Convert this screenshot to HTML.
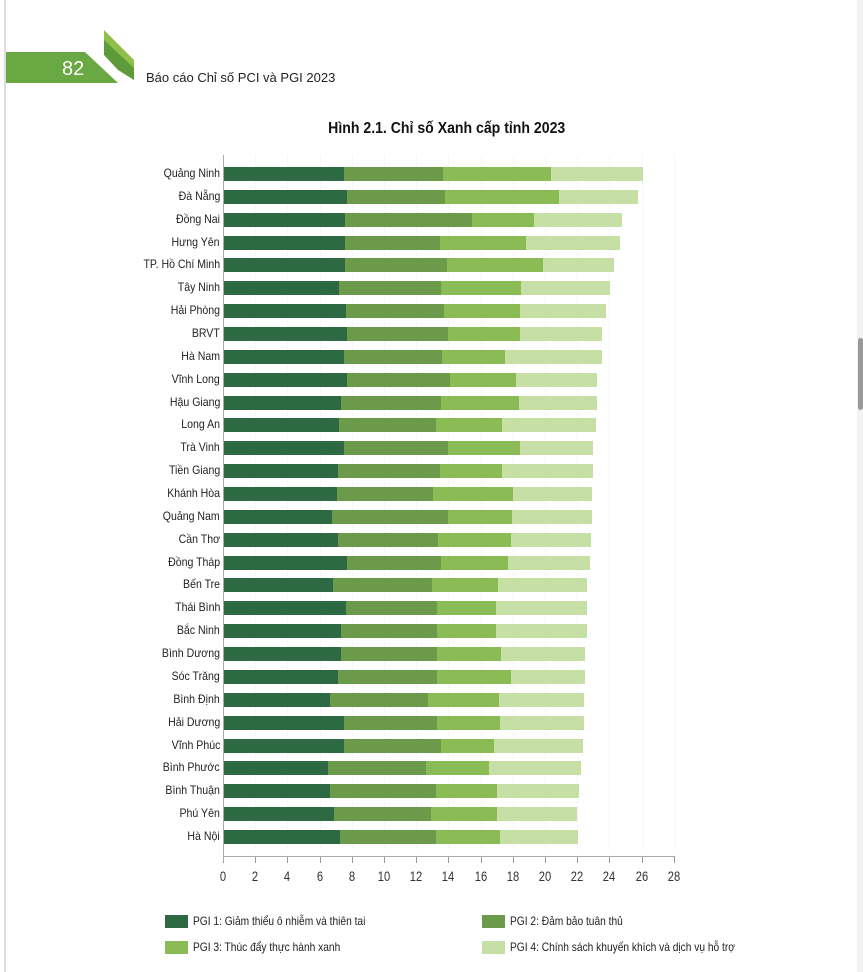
<!DOCTYPE html>
<html><head><meta charset="utf-8">
<style>
body{margin:0;width:863px;height:972px;background:#fff;position:relative;overflow:hidden;font-family:"Liberation Sans",sans-serif;}
.a{position:absolute;}
.lbl{position:absolute;right:643px;font-size:12px;color:#222;transform:scaleX(0.88);transform-origin:right center;white-space:nowrap;}
.tk{position:absolute;font-size:14px;color:#333;width:30px;text-align:center;transform:scaleX(0.8);}
.leg{position:absolute;font-size:12px;color:#222;white-space:nowrap;transform:scaleX(0.85);transform-origin:left center;}
.sw{position:absolute;width:23px;height:13px;}
</style></head><body>
<div class="a" style="left:4px;top:0;width:2px;height:972px;background:#ddd"></div>
<div class="a" style="left:857px;top:0;width:6px;height:972px;background:#f2f2f2"></div>
<div class="a" style="left:858px;top:338px;width:5px;height:72px;background:#999;border-radius:3px"></div>
<svg class="a" style="left:0;top:0" width="140" height="90">
<polygon points="6,52 85,52 118,83 6,83" fill="#6aa843"/>
<polygon points="104,30 134,60 134,80 104,52" fill="#8fbf4a"/>
<polygon points="104,40 134,68 134,80 118,70 104,55" fill="#5d9a3a"/>
</svg>
<div class="a" style="left:62px;top:58px;font-size:20px;color:#fff">82</div>
<div class="a" style="left:146px;top:70px;font-size:13px;color:#222">Báo cáo Chỉ số PCI và PGI 2023</div>
<div class="a" style="left:0;width:863px;top:120px;text-align:center;font-size:16px;font-weight:bold;color:#111;"><span style="display:inline-block;transform:scaleX(0.88);margin-left:30px">Hình 2.1. Chỉ số Xanh cấp tỉnh 2023</span></div>
<div id="c"></div>
<div class="a" style="left:223px;top:155px;width:1px;height:706px;background:#aaa"></div>
<div class="sw" style="left:165px;top:915px;background:#2d6a43"></div>
<div class="leg" style="left:193px;top:914px">PGI 1: Giảm thiểu ô nhiễm và thiên tai</div>
<div class="sw" style="left:482px;top:915px;background:#6a9a4a"></div>
<div class="leg" style="left:510px;top:914px">PGI 2: Đảm bảo tuân thủ</div>
<div class="sw" style="left:165px;top:941px;background:#8bbb55"></div>
<div class="leg" style="left:193px;top:940px">PGI 3: Thúc đẩy thực hành xanh</div>
<div class="sw" style="left:482px;top:941px;background:#c6dfa4"></div>
<div class="leg" style="left:510px;top:940px">PGI 4: Chính sách khuyến khích và dịch vụ hỗ trợ</div>
<script>
var d=[["Quảng Ninh",344,443,551,643],["Đà Nẵng",347,445,559,638],["Đồng Nai",345,472,534,622],["Hưng Yên",345,440,526,620],["TP. Hồ Chí Minh",345,447,543,614],["Tây Ninh",339,441,521,610],["Hải Phòng",346,444,520,606],["BRVT",347,448,520,602],["Hà Nam",344,442,505,602],["Vĩnh Long",347,450,516,597],["Hậu Giang",341,441,519,597],["Long An",339,436,502,596],["Trà Vinh",344,448,520,593],["Tiền Giang",338,440,502,593],["Khánh Hòa",337,433,513,592],["Quảng Nam",332,448,512,592],["Cần Thơ",338,438,511,591],["Đồng Tháp",347,441,508,590],["Bến Tre",333,432,498,587],["Thái Bình",346,437,496,587],["Bắc Ninh",341,437,496,587],["Bình Dương",341,437,501,585],["Sóc Trăng",338,437,511,585],["Bình Định",330,428,499,584],["Hải Dương",344,437,500,584],["Vĩnh Phúc",344,441,494,583],["Bình Phước",328,426,489,581],["Bình Thuận",330,436,497,579],["Phú Yên",334,431,497,577],["Hà Nội",340,436,500,578]];
var col=["#2d6a43","#6a9a4a","#8bbb55","#c6dfa4"];var h="";
for(var t=0;t<=14;t++){var x=223+t*32.2;
 if(t>0)h+='<div class="a" style="left:'+Math.round(x)+'px;top:155px;width:0;height:695px;border-left:1px dotted #eee"></div>';
 h+='<div class="a" style="left:'+Math.round(x)+'px;top:856px;width:1px;height:7px;background:#999"></div>';
 h+='<div class="tk" style="left:'+Math.round(x-15)+'px;top:868px">'+(t*2)+'</div>';}
h+='<div class="a" style="left:223px;top:856px;width:451px;height:1px;background:#aaa"></div>';
for(var i=0;i<d.length;i++){var y=Math.round(167+i*22.86);var p=224;
 h+='<div class="lbl" style="top:'+(y-1)+'px">'+d[i][0]+'</div>';
 for(var k=0;k<4;k++){h+='<div class="a" style="left:'+p+'px;top:'+y+'px;width:'+(d[i][k+1]-p)+'px;height:14px;background:'+col[k]+'"></div>';p=d[i][k+1];}}
document.getElementById("c").innerHTML=h;
</script>
</body></html>
